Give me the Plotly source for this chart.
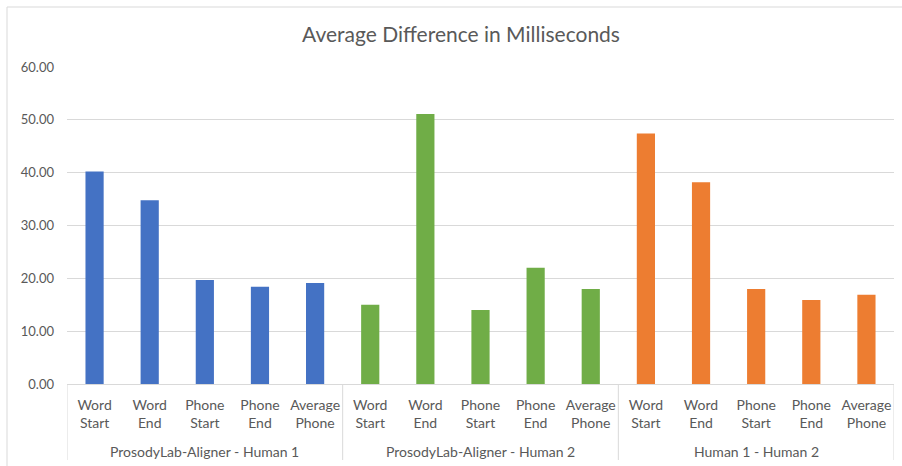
import plotly.graph_objects as go

# Average timing differences (ms) for each comparison pair
groups = ["ProsodyLab-Aligner - Human 1", "ProsodyLab-Aligner - Human 2", "Human 1 - Human 2"]
measures = ["Word<br>Start", "Word<br>End", "Phone<br>Start", "Phone<br>End", "Average<br>Phone"]
aligner_h1 = [40.2, 34.8, 19.7, 18.4, 19.1]
aligner_h2 = [15.0, 51.1, 14.0, 22.0, 18.0]
human_h1_h2 = [47.4, 38.2, 18.0, 15.9, 16.9]
colors = ["#4472C4", "#70AD47", "#ED7D31"]
y_ticks = [0, 10, 20, 30, 40, 50, 60]

FONT = "Lato"
TEXT = "#595959"
GRID = "#D9D9D9"

n = len(measures)
fig = go.Figure()
tick_pos, tick_txt = [], []
annotations, shapes = [], []
for g, (grp, vals, col) in enumerate(zip(groups, [aligner_h1, aligner_h2, human_h1_h2], colors)):
    xs = [g * n + i for i in range(n)]
    tick_pos += xs
    tick_txt += measures
    fig.add_trace(go.Bar(
        x=xs, y=vals,
        marker=dict(color=col, line=dict(width=0)),
        width=0.33, showlegend=False,
    ))
    # group label under the measure labels
    annotations.append(dict(
        text=grp, x=g * n + (n - 1) / 2, xref="x",
        y=(384 - 451) / 317, yref="paper", yanchor="middle",
        showarrow=False, font=dict(family=FONT, size=14, color=TEXT),
    ))

# group dividers spanning the category label band
for b in range(len(groups) + 1):
    shapes.append(dict(
        type="line", xref="x", yref="paper",
        x0=b * n - 0.5, x1=b * n - 0.5, y0=0, y1=(384 - 460) / 317,
        line=dict(color=GRID, width=1),
    ))

# outer chart border
shapes.append(dict(
    type="rect", xref="paper", yref="paper",
    x0=(7 - 67) / 827, x1=1.1, y0=-0.5, y1=(384 - 7) / 317,
    line=dict(color=GRID, width=1), fillcolor="rgba(0,0,0,0)", layer="below",
))

fig.update_layout(
    width=902, height=466,
    margin=dict(l=67, r=8, t=67, b=82),
    paper_bgcolor="white", plot_bgcolor="white",
    barmode="overlay",
    font=dict(family=FONT, size=13, color=TEXT),
    title=dict(
        text="Average Difference in Milliseconds",
        x=461 / 902, xref="container", xanchor="center",
        y=1 - 35 / 466, yref="container", yanchor="middle",
        font=dict(family=FONT, size=21, color=TEXT),
    ),
    xaxis=dict(
        range=[-0.5, len(groups) * n - 0.5],
        tickvals=tick_pos, ticktext=tick_txt,
        showline=True, linecolor=GRID, linewidth=1,
        showgrid=False, zeroline=False, ticks="",
        ticklabelstandoff=8,
        tickfont=dict(family=FONT, size=14, color=TEXT),
    ),
    yaxis=dict(
        range=[0, 60], tickvals=y_ticks, tickformat=".2f",
        showgrid=True, gridcolor=GRID, gridwidth=1,
        zeroline=False, showline=False, ticks="",
        ticklabelstandoff=12,
        tickfont=dict(family=FONT, size=13, color=TEXT),
    ),
    annotations=annotations,
    shapes=shapes,
)

fig.write_html("out.html")
